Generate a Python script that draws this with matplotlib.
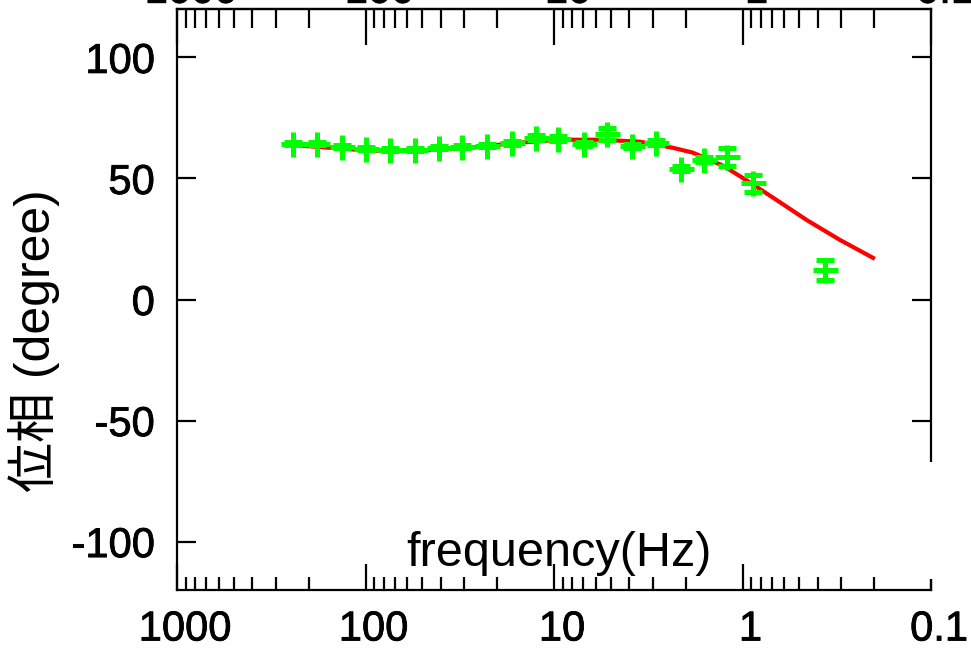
import numpy as np
import matplotlib
matplotlib.use('Agg')
import matplotlib.pyplot as plt
import matplotlib.patheffects as pe
from matplotlib.transforms import ScaledTranslation, blended_transform_factory
from matplotlib.patches import Rectangle
from matplotlib.ticker import LogLocator, NullFormatter, FixedLocator, FixedFormatter

# ---- data ----
freq = [242, 180, 133, 99, 74, 54.5, 40.6, 30.6, 22.8, 16.8, 12.5, 9.47,
        6.97, 5.26, 3.88, 2.89, 2.13, 1.61, 1.21, 0.883, 0.366]
phase = [64.3, 64.3, 63.1, 62.3, 61.9, 61.9, 62.7, 63.1, 63.5, 64.8, 66.8, 66.4,
         64.3, 68.4, 63.5, 64.8, 54.1, 57.8, 59.0, 48.0, 12.3]
phase_err = [0.6, 0.6, 0.6, 0.6, 0.6, 0.6, 0.6, 0.6, 0.6, 0.8, 1.0, 1.0,
             0.8, 2.5, 0.8, 1.0, 1.0, 1.0, 3.7, 3.5, 4.1]

fit_freq = [254, 156, 95.5, 51.8, 28.1, 15.2, 9.3, 5.73, 3.51, 2.35, 1.84,
            1.27, 0.915, 0.634, 0.456, 0.304, 0.203]
fit_phase = [63.9, 62.7, 61.5, 61.5, 62.7, 64.8, 66.0, 66.0, 65.2, 62.7, 60.7,
             55.3, 48.4, 40.2, 32.8, 24.6, 17.2]

xticks = [1000, 100, 10, 1, 0.1]
xtick_labels = ['1000', '100', '10', '1', '0.1']
yticks = [-100, -50, 0, 50, 100]
ytick_labels = ['-100', '-50', '0', '50', '100']

xlabel = 'frequency(Hz)'
ylabel = '位相 (degree)'

# ---- figure ----
plt.rcParams['font.family'] = ['Liberation Sans', 'Noto Sans CJK JP']
fig = plt.figure(figsize=(9.71, 6.49), dpi=100)
W, H = 971, 649
ax = fig.add_axes([177 / W, 1 - 590 / H, (931 - 177) / W, (590 - 9) / H])

ax.plot(fit_freq, fit_phase, color='#ff0000', lw=3.0, zorder=2)
ax.errorbar(freq, phase, yerr=phase_err, fmt='+', color='#00ff00',
            ms=18, mew=3.6, elinewidth=3.0, capsize=6.5, capthick=3.0, zorder=3)

ax.set_xscale('log')
ax.set_xlim(1000, 0.1)
ax.set_ylim(-120, 120)

for s in ax.spines.values():
    s.set_linewidth(1.6)

ax.xaxis.set_major_locator(FixedLocator(xticks))
ax.xaxis.set_major_formatter(FixedFormatter(xtick_labels))
ax.xaxis.set_minor_locator(LogLocator(base=10, subs=np.arange(2, 10), numticks=20))
ax.xaxis.set_minor_formatter(NullFormatter())
ax.set_yticks(yticks)
ax.set_yticklabels(ytick_labels)

ax.tick_params(axis='x', which='major', direction='in', length=19, width=1.6,
               labelsize=30, pad=14, top=False)
ax.tick_params(axis='x', which='minor', direction='in', length=9.5, width=1.6, top=False)
ax.tick_params(axis='y', which='major', direction='in', length=14, width=1.6,
               labelsize=30, pad=16, right=True)
ax.tick_params(axis='y', which='minor', left=False, right=False)

thick = [pe.withStroke(linewidth=0.6, foreground='black')]

# offset bottom tick labels slightly right
off_b = ScaledTranslation(8 / 100, 0, fig.dpi_scale_trans)
for lab in ax.get_xticklabels():
    lab.set_transform(lab.get_transform() + off_b)
    lab.set_path_effects(thick)
for lab in ax.get_yticklabels():
    lab.set_path_effects(thick)

# top axis
ax2 = ax.twiny()
ax2.set_xscale('log')
ax2.set_xlim(1000, 0.1)
ax2.xaxis.set_major_locator(FixedLocator(xticks))
ax2.xaxis.set_major_formatter(FixedFormatter(xtick_labels))
ax2.xaxis.set_minor_locator(LogLocator(base=10, subs=np.arange(2, 10), numticks=20))
ax2.xaxis.set_minor_formatter(NullFormatter())
ax2.tick_params(axis='x', which='major', direction='in', length=26, width=1.6,
                labelsize=30, pad=-2)
ax2.tick_params(axis='x', which='minor', direction='in', length=14, width=1.6)
for s in ['left', 'right', 'bottom']:
    ax2.spines[s].set_visible(False)
ax2.spines['top'].set_linewidth(1.6)
off_t = ScaledTranslation(14 / 100, 0, fig.dpi_scale_trans)
for lab in ax2.get_xticklabels():
    lab.set_transform(lab.get_transform() + off_t)
    lab.set_path_effects(thick)

# white gap in the right frame
tr = blended_transform_factory(ax.transAxes, ax.transData)
ax.add_patch(Rectangle((0.97, -115.5), 0.05, 48.5, transform=tr, facecolor='white',
                       edgecolor='none', clip_on=False, zorder=10))

fig.text(559 / W, 1 - 553 / H, xlabel, fontsize=35, ha='center', va='center')
fig.text(34 / W, 1 - 341 / H, ylabel, fontsize=36, ha='center', va='center',
         rotation=90)

fig.savefig('out.png', dpi=100)
